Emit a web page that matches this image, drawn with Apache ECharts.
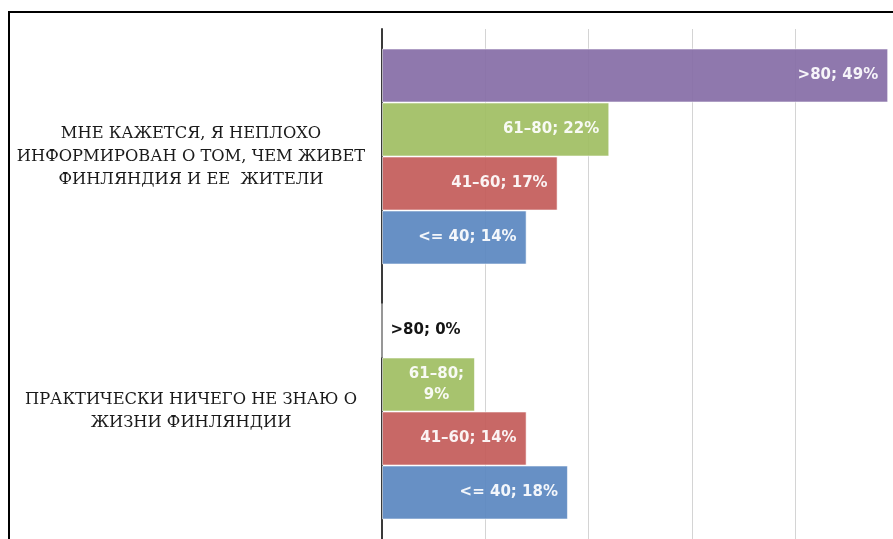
<!DOCTYPE html>
<html>
<head>
<meta charset="utf-8">
<script src="https://cdn.jsdelivr.net/npm/echarts@6/dist/echarts.min.js"></script>
<style>
  html, body { margin: 0; padding: 0; background: #fff; }
  #chart { width: 893px; height: 539px; }
</style>
</head>
<body>
<div id="chart"></div>
<script>
// --- Data ---
const categories = [
  'ПРАКТИЧЕСКИ НИЧЕГО НЕ ЗНАЮ О\nЖИЗНИ ФИНЛЯНДИИ',
  'МНЕ КАЖЕТСЯ, Я НЕПЛОХО\nИНФОРМИРОВАН О ТОМ, ЧЕМ ЖИВЕТ\nФИНЛЯНДИЯ И ЕЕ  ЖИТЕЛИ'
];
// listed top to bottom inside each category (series 0 sits on top)
const seriesNames = ['>80', '61–80', '41–60', '<= 40'];
const ageOver80 = [0, 49];
const age80 = [9, 22];
const age60 = [14, 17];
const age40 = [18, 14];
const xTicks = [0, 10, 20, 30, 40, 50];

// colours a touch darker than the visible ones, the bars are slightly see-through
const colors = ['#856ca6', '#9fbe62', '#c35b59', '#5a87c0'];

// labels: white inside the bar, black outside for empty bars, wrapped for narrow ones
function buildData(values) {
  return values.map(v => {
    if (v === 0) {
      return {
        value: v,
        label: { position: 'right', distance: 8, color: '#000' }
      };
    }
    if (v < 10) {
      return {
        value: v,
        label: { position: 'inside', formatter: '{a};\n{c}%', align: 'center', offset: [8, 0], lineHeight: 21 }
      };
    }
    return v;
  });
}

const allValues = [ageOver80, age80, age60, age40];

const chart = echarts.init(document.getElementById('chart'), null, { renderer: 'canvas' });

chart.setOption({
  backgroundColor: '#fff',
  animation: false,
  // the plot runs a little past the right edge of the picture
  grid: { left: 382, top: 29, right: -5.5, height: 510, outerBoundsMode: 'none' },
  xAxis: {
    type: 'value',
    min: xTicks[0],
    max: xTicks[xTicks.length - 1],
    interval: 10,
    axisLabel: { show: false },
    axisLine: { show: false },
    axisTick: { show: false },
    splitLine: { lineStyle: { color: '#d4d4d4', width: 1 } }
  },
  yAxis: {
    type: 'category',
    data: categories,
    axisLine: { show: true, lineStyle: { color: '#3a3a3a', width: 2 } },
    axisTick: { show: false },
    axisLabel: {
      margin: 191,
      align: 'center',
      color: '#1a1a1a',
      fontFamily: 'DejaVu Serif',
      fontSize: 16.3,
      lineHeight: 23
    }
  },
  series: seriesNames.map((name, i) => ({
    name,
    type: 'bar',
    data: buildData(allValues[i]),
    barWidth: 54,
    barGap: '0%',
    itemStyle: {
      color: colors[i],
      opacity: 0.92,
      borderColor: 'rgba(255,255,255,0.6)',
      borderWidth: 1
    },
    label: {
      show: true,
      position: 'insideRight',
      distance: 10,
      formatter: '{a}; {c}%',
      color: '#fff',
      fontFamily: 'DejaVu Sans',
      fontWeight: 'bold',
      fontSize: 15
    }
  })),
  graphic: [
    { type: 'line', shape: { x1: 9, y1: 12, x2: 9, y2: 539 }, style: { stroke: '#000', lineWidth: 2 } },
    { type: 'line', shape: { x1: 8, y1: 12, x2: 893, y2: 12 }, style: { stroke: '#000', lineWidth: 2 } }
  ]
});
</script>
</body>
</html>
